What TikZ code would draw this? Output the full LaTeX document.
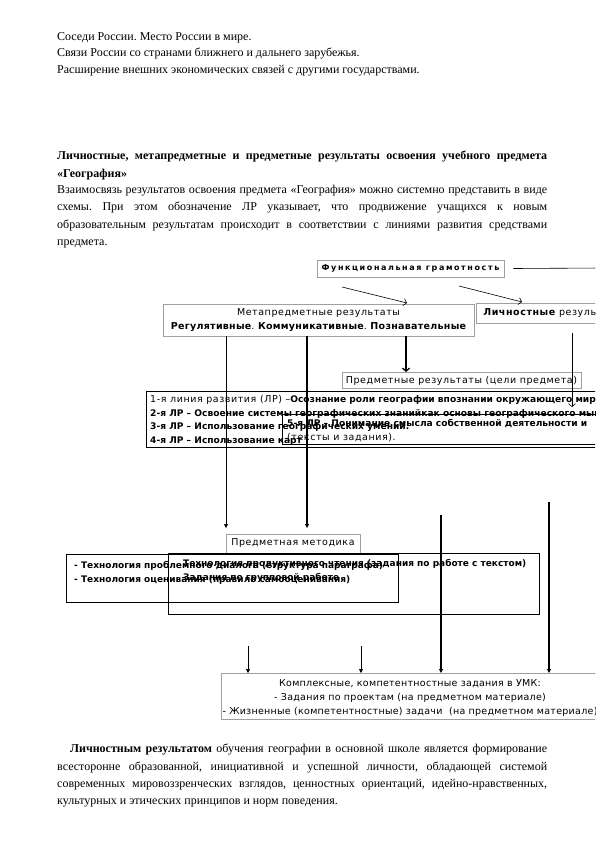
\documentclass[tikz,border=0pt]{standalone}
\usepackage{fontspec}
\setmainfont{Liberation Serif}
\newfontfamily\boxfont{DejaVu Sans}[LetterSpace=6]
\newfontfamily\midfont{DejaVu Sans}[LetterSpace=3]
\newfontfamily\heavyfont{DejaVu Sans}
\newfontfamily\widefont{DejaVu Sans}[LetterSpace=20]
\usetikzlibrary{arrows.meta}
\newcommand{\boxtxt}{\boxfont\fontsize{9.5}{13}\selectfont}
\newcommand{\heavy}[1]{{\heavyfont\bfseries\fontsize{9.1}{13.5}\selectfont #1}}
\frenchspacing

\begin{document}
\begin{tikzpicture}[x=1pt,y=-1pt,
  body/.style={inner sep=0pt,anchor=north west,font=\fontsize{12}{17.3}\selectfont},
  gbox/.style={draw=gray!75,line width=0.6pt,inner sep=0pt,font=\boxtxt},
  kbox/.style={draw=black,line width=0.6pt,inner sep=0pt},
  btxt/.style={inner sep=0pt,anchor=north west,align=left,font=\boxfont\fontsize{9.5}{13.5}\selectfont},
  ttxt/.style={inner sep=0pt,anchor=north west,align=left,font=\heavyfont\bfseries\fontsize{9}{14}\selectfont},
  ln/.style={line width=0.6pt},
  thk/.style={line width=1.3pt},
  tip/.style={-{Triangle[length=4pt,width=4pt]}},
  vtip/.style={-{Straight Barb[length=3pt,width=7pt]}}]

\useasboundingbox (0,0) rectangle (595,842);
\fill[white] (0,0) rectangle (595,842);
\clip (0,0) rectangle (595,842);

% text above the scheme
\node[body,align=left,font=\fontsize{12}{16.5}\selectfont] (intro) at (57,32)
  {Соседи России. Место России в мире.\\
   Связи России со странами ближнего и дальнего зарубежья.\\
   Расширение внешних экономических связей с другими государствами.};

\node[body,text width=490pt,align=justify] (head) at (57,151)
  {\textbf{Личностные, метапредметные и предметные результаты освоения учебного предмета\linebreak «География»}};

\node[body,text width=490pt,align=justify] (para) at (57,185)
  {Взаимосвязь результатов освоения предмета «География» можно системно представить в виде\linebreak
   схемы. При этом обозначение ЛР указывает, что продвижение учащихся к новым\linebreak
   образовательным результатам происходит в соответствии с линиями развития средствами\linebreak
   предмета.};

% the scheme
\node[gbox,minimum width=187pt,minimum height=17pt,font=\widefont\bfseries\fontsize{8}{10}\selectfont]
  (funk) at (410.5,268.5) {Функциональная грамотность};
\coordinate (f1) at (603,268);
\draw[ln] ([xshift=9pt]funk.east) -- (f1);

\node[gbox,minimum width=311pt,minimum height=32pt,align=center] (meta) at (318.5,320)
  {Метапредметные результаты\\[1.5pt]
   {\midfont\bfseries Регулятивные}. {\midfont\bfseries Коммуникативные}. {\midfont\bfseries Познавательные}};
\node[gbox,anchor=north west,minimum height=20pt,text width=140pt,inner xsep=7pt,align=left]
  (lich) at (476,303) {\textbf{Личностные} результаты};

\coordinate (d1) at (342,287);
\coordinate (d1e) at (407,303);
\coordinate (d2) at (459,286);
\coordinate (d2e) at (522,302);
\draw[ln,vtip] (d1) -- (d1e);
\draw[ln,vtip] (d2) -- (d2e);

\node[gbox,minimum width=239pt,minimum height=16pt] (pred) at (461.5,380.5)
  {Предметные результаты (цели предмета)};

\node[kbox,anchor=north west,minimum width=480pt,minimum height=56pt] (lrbox) at (146,391) {};
\node[btxt] (lrtxt) at (150,395.5)
  {1-я линия развития (ЛР) –\heavy{Осознание роли географии впознании окружающего мира}\\
   \heavy{2-я ЛР – Освоение системы географических знанийкак основы географического мышления}\\
   \heavy{3-я ЛР – Использование географических умений.}\\
   \heavy{4-я ЛР – Использование карт}};
\node[kbox,anchor=north west,minimum width=340pt,minimum height=30pt] (lr5box) at (282,414) {};
\node[btxt] (lr5txt) at (287,419.5)
  {\heavy{5-я ЛР – Понимание смысла собственной деятельности и}\\
   (тексты и задания).};

\coordinate (m1) at (226,528);
\coordinate (m2) at (307,528);
\coordinate (m3) at (406,372);
\draw[ln,tip] (meta.south -| m1) -- (m1);
\draw[thk,tip] (meta.south -| m2) -- (m2);
\draw[thk,vtip] (meta.south -| m3) -- (m3);
\coordinate (l1) at (572,333);
\coordinate (l1e) at (572,407);
\draw[ln,vtip] (l1) -- (l1e);

\node[gbox,minimum width=134pt,minimum height=19pt] (met) at (293,543.5) {Предметная методика};
\node[kbox,anchor=north west,minimum width=332pt,minimum height=48pt] (techL) at (66,554) {};
\node[ttxt] (techLtxt) at (74,561)
  {- Технология проблемного диалога (структура параграфа)\\
   - Технология оценивания (правило самооценивания)};
\node[kbox,anchor=north west,minimum width=371pt,minimum height=61pt] (techR) at (168,553) {};
\node[ttxt] (techRtxt) at (183,559)
  {Технология продуктивного чтения (задания по работе с текстом)\\
   Задания по групповой работе};

\node[gbox,anchor=north west,minimum width=380pt,minimum height=46pt] (umk) at (221,673) {};
\node[inner sep=0pt,align=center,font=\midfont\fontsize{9.5}{13.8}\selectfont] (umktxt) at (410,698)
  {Комплексные, компетентностные задания в УМК:\\
   - Задания по проектам (на предметном материале)\\
   - Жизненные (компетентностные) задачи~~(на предметном материале)};

\coordinate (k1) at (441,515);
\coordinate (k2) at (549,502);
\coordinate (s1) at (248,646);
\coordinate (s2) at (361,646);
\draw[thk,tip] (k1) -- (k1 |- umk.north);
\draw[thk,tip] (k2) -- (k2 |- umk.north);
\draw[ln,tip] (s1) -- (s1 |- umk.north);
\draw[ln,tip] (s2) -- (s2 |- umk.north);

% text below the scheme
\node[body,text width=490pt,align=justify] (fin) at (57,744)
  {\hspace*{13pt}\textbf{Личностным результатом} обучения географии в основной школе является формирование\linebreak
   всесторонне образованной, инициативной и успешной личности, обладающей системой\linebreak
   современных мировоззренческих взглядов, ценностных ориентаций, идейно-нравственных,\linebreak
   культурных и этических принципов и норм поведения.};

\end{tikzpicture}
\end{document}
